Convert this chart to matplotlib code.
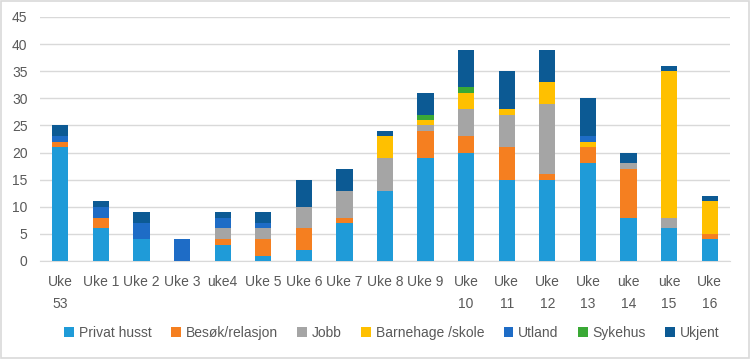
import numpy as np
import matplotlib
matplotlib.use("Agg")
import matplotlib.pyplot as plt
from matplotlib.patches import Rectangle

plt.rcParams['font.family'] = ['Liberation Sans Narrow', 'Liberation Sans', 'DejaVu Sans']

# data
weeks = ["Uke\n53", "Uke 1", "Uke 2", "Uke 3", "uke4", "Uke 5", "Uke 6", "Uke 7",
         "Uke 8", "Uke 9", "Uke\n10", "Uke\n11", "Uke\n12", "Uke\n13", "uke\n14",
         "uke\n15", "Uke\n16"]
privat   = [21, 6, 4, 0, 3, 1, 2, 7, 13, 19, 20, 15, 15, 18, 8, 6, 4]
besok    = [1, 2, 0, 0, 1, 3, 4, 1, 0, 5, 3, 6, 1, 3, 9, 0, 1]
jobb     = [0, 0, 0, 0, 2, 2, 4, 5, 6, 1, 5, 6, 13, 0, 1, 2, 0]
barnehage = [0, 0, 0, 0, 0, 0, 0, 0, 4, 1, 3, 1, 4, 1, 0, 27, 6]
utland   = [1, 2, 3, 4, 2, 1, 0, 0, 0, 0, 0, 0, 0, 1, 0, 0, 0]
sykehus  = [0, 0, 0, 0, 0, 0, 0, 0, 0, 1, 1, 0, 0, 0, 0, 0, 0]
ukjent   = [2, 1, 2, 0, 1, 2, 5, 4, 1, 4, 7, 7, 6, 7, 2, 1, 1]

series = [
    ("Privat husst", privat, "#1F9BD8"),
    ("Besøk/relasjon", besok, "#F57F20"),
    ("Jobb", jobb, "#A5A5A5"),
    ("Barnehage /skole", barnehage, "#FFC000"),
    ("Utland", utland, "#1E6CC6"),
    ("Sykehus", sykehus, "#3AA935"),
    ("Ukjent", ukjent, "#0C5A94"),
]

fig = plt.figure(figsize=(7.5, 3.59), dpi=100)
fig.patches.append(Rectangle((0.001, 0.002), 0.997, 0.995, transform=fig.transFigure,
                             fill=False, edgecolor="#D9D9D9", linewidth=1.2))
ax = fig.add_axes([40 / 750, 1 - 261 / 359, 690 / 750, 244 / 359])

x = np.arange(len(weeks))
bottom = np.zeros(len(weeks))
for name, vals, color in series:
    ax.bar(x, vals, 0.4, bottom=bottom, color=color, label=name, zorder=3)
    bottom += np.array(vals)

ax.set_xlim(-0.5, len(weeks) - 0.5)
ax.set_ylim(0, 45)
ax.set_yticks(range(0, 46, 5))
ax.set_xticks(x)
ax.set_xticklabels(weeks, linespacing=1.7)
ax.yaxis.grid(True, color="#D9D9D9", linewidth=1, zorder=0)
for s in ["top", "right", "left"]:
    ax.spines[s].set_visible(False)
ax.spines["bottom"].set_color("#D9D9D9")
ax.tick_params(axis="both", length=0, colors="#595959", labelsize=10)
ax.tick_params(axis="x", pad=10)
ax.tick_params(axis="y", pad=9)

ax.legend(loc="center", bbox_to_anchor=(352 / 690, -0.295), ncol=7, frameon=False,
          fontsize=10, handlelength=0.7, handleheight=0.7, handletextpad=0.35,
          columnspacing=1.4, labelcolor="#595959")

fig.savefig("out.png", dpi=100)
